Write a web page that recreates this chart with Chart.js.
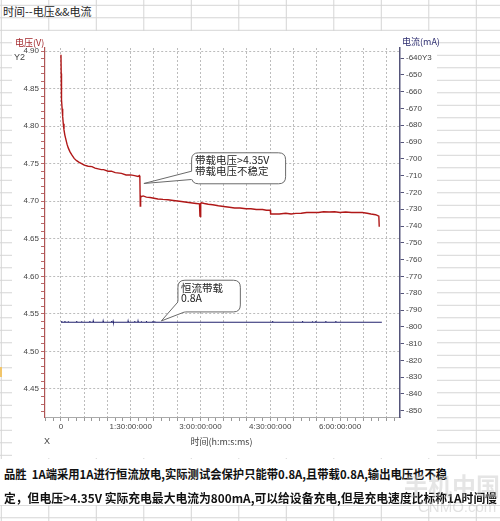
<!DOCTYPE html>
<html><head><meta charset="utf-8">
<script src="https://cdn.jsdelivr.net/npm/chart.js@4.4.1/dist/chart.umd.min.js"></script>
<style>
html,body{margin:0;padding:0;}
body{width:500px;height:521px;position:relative;overflow:hidden;background-color:#fff;
background-image:linear-gradient(to right,#d4d4d4 1px,transparent 1px),linear-gradient(to bottom,#d4d4d4 1px,transparent 1px);
background-size:47.5px 100%,100% 12.5px;background-position:0.8px 0,0 4.8px;}
#sheetTitle{position:absolute;left:3px;top:5px;font:11px "Noto Sans CJK SC";color:#222;line-height:13px;white-space:nowrap;}
#chartBox{position:absolute;left:12px;top:31px;width:425px;height:427px;background:#fff;}
#c{position:absolute;left:0;top:0;z-index:1;}
#note{position:absolute;left:0;top:459px;width:500px;height:46px;background:#fff;z-index:2;}
.nl{position:absolute;left:4px;font:bold 12px "Noto Sans CJK SC";color:#111;white-space:nowrap;line-height:14px;transform-origin:0 50%;}
#wm1{position:absolute;left:404px;top:471px;font:bold 24px "Noto Sans CJK SC";color:rgba(190,190,190,0.4);z-index:3;white-space:nowrap;line-height:28px;}
#wm2{position:absolute;left:418px;top:498px;font:15px "Liberation Sans";color:rgba(190,190,190,0.45);z-index:3;white-space:nowrap;line-height:17px;}
#mark{position:absolute;left:0;top:367px;width:2px;height:10px;background:#f1c56a;}
</style></head>
<body>
<div id="sheetTitle">时间--电压&amp;&amp;电流</div>
<div id="mark"></div>
<div id="chartBox"></div>
<canvas id="c" width="500" height="521"></canvas>
<div id="note">
<div class="nl" id="nl1" style="top:8px" data-w="443">品胜&nbsp; 1A端采用1A进行恒流放电,实际测试会保护只能带0.8A,且带载0.8A,输出电压也不稳</div>
<div class="nl" id="nl2" style="top:32px" data-w="493">定，但电压&gt;4.35V 实际充电最大电流为800mA,可以给设备充电,但是充电速度比标称1A时间慢</div>
</div>
<div id="wm1">手机中国</div>
<div id="wm2">CNMO.com</div>
<script>
// fit note lines to the reference widths
document.querySelectorAll('.nl').forEach(el=>{
  const w = el.getBoundingClientRect().width, target = +el.dataset.w;
  if (w > 0) el.style.transform = 'scaleX(' + (target / w) + ')';
});

// ---- data (time in minutes) ----
const voltTimeMin = [0,0.3,0.5,0.9,1.5,2.2,3.0,3.9,5.0,6.4,7.8,9.4,11.5,13.8,17,20.2,23,26.6,30,35.1,40,44,48,52,55,60.8,65,70,78,84,90,95,99.4,101.2,101.8,102.3,102.8,103.7,106,110.2,115,120,125,131.6,138,145,153,160,167,174.4,178.7,179.3,179.8,180.3,181,185,190,195.8,203,210,217.3,224,231,238.7,245,252,260.1,265,270,270.5,275,281.6,290,297,303,310,317,324.4,332,339,345.9,353,360,367.3,375,382,388.7,395,400,405.9,408,410.1,410.6];
const voltValues = [4.895,4.870,4.855,4.835,4.823,4.813,4.803,4.795,4.788,4.782,4.776,4.771,4.766,4.762,4.757,4.754,4.752,4.750,4.748,4.7466,4.746,4.744,4.743,4.742,4.742,4.740,4.740,4.738,4.737,4.735,4.735,4.734,4.733,4.734,4.731,4.6935,4.707,4.706,4.707,4.7055,4.705,4.704,4.703,4.7024,4.702,4.701,4.700,4.699,4.698,4.697,4.6965,4.680,4.6795,4.697,4.698,4.697,4.696,4.6953,4.694,4.693,4.692,4.691,4.691,4.690,4.690,4.689,4.689,4.688,4.688,4.683,4.683,4.683,4.684,4.683,4.6838,4.684,4.685,4.6851,4.685,4.686,4.6856,4.686,4.685,4.6856,4.685,4.685,4.685,4.684,4.683,4.682,4.681,4.680,4.666];

const currTimeMin = [0,
 0.6,0.9,1.2, 4.8,5.1,5.4, 9.1,9.4,9.7, 19.9,20.2,20.5, 26.3,26.6,26.9, 37,37.3,37.6,
 41.3,41.6,41.9, 54.1,54.4,54.7, 64.9,65.2,65.5, 67,67.3,67.6, 86.3,86.6,86.9, 94.8,95.1,95.4,
 99.1,99.4,99.7, 103.4,103.7,104, 109.9,110.2,110.5, 118.4,118.7,119, 120.6,120.9,121.2,
 272.7,273,273.3, 311.3,311.6,311.9, 324.1,324.4,324.7, 328.4,328.7,329, 341.3,341.6,341.9,
 354.2,354.5,354.8, 414];
const currValues = [-797.3,
 -797.3,-796.6,-797.3, -797.3,-796.6,-797.3, -797.3,-796.7,-797.3, -797.3,-796.6,-797.3, -797.3,-796.7,-797.3, -797.3,-796.6,-797.3,
 -797.3,-796.6,-797.3, -797.3,-796.6,-797.3, -797.3,-796.6,-797.3, -797.3,-796.7,-797.3, -797.3,-796.6,-797.3, -797.3,-796.6,-797.3,
 -797.3,-796.6,-797.3, -797.3,-796.7,-797.3, -797.3,-796.6,-797.3, -797.3,-796.6,-797.3, -797.3,-796.7,-797.3,
 -797.3,-796.6,-797.3, -797.3,-796.6,-797.3, -797.3,-796.7,-797.3, -797.3,-796.6,-797.3, -797.3,-796.6,-797.3,
 -797.3,-796.6,-797.3, -797.3];

// ---- ticks ----
const xLabelMinutes = [0, 90, 180, 270, 360];
const xTickLabels = ['0','1:30:00:000','3:00:00:000','4:30:00:000','6:00:00:000'];
const xGridMinutes = [0,30,60,90,120,150,180,210,240,270,300,330,360,390,420];
const xMinorMinutes = [-20,-10,0,10,20,30,40,50,60,70,80,90,100,110,120,130,140,150,160,170,180,190,200,210,220,230,240,250,260,270,280,290,300,310,320,330,340,350,360,370,380,390,400,410,420,430];
const yLeftLabelValues = [4.45,4.50,4.55,4.60,4.65,4.70,4.75,4.80,4.85,4.90];
const yLeftLabels = ['4.45','4.50','4.55','4.60','4.65','4.70','4.75','4.80','4.85','4.90'];
const yLeftMinor = [4.42,4.43,4.44,4.45,4.46,4.47,4.48,4.49,4.50,4.51,4.52,4.53,4.54,4.55,4.56,4.57,4.58,4.59,4.60,4.61,4.62,4.63,4.64,4.65,4.66,4.67,4.68,4.69,4.70,4.71,4.72,4.73,4.74,4.75,4.76,4.77,4.78,4.79,4.80,4.81,4.82,4.83,4.84,4.85,4.86,4.87,4.88,4.89,4.90];
const yRightValues = [-850,-840,-830,-820,-810,-800,-790,-780,-770,-760,-750,-740,-730,-720,-710,-700,-690,-680,-670,-660,-650,-640];
const yRightLabels = ['-850','-840','-830','-820','-810','-800','-790','-780','-770','-760','-750','-740','-730','-720','-710','-700','-690','-680','-670','-660','-650','-640Y3'];

// ---- annotation anchors (data units) ----
const callout1Tip = {t:107, v:4.7236};
const callout1Lines = ['带载电压>4.35V','带载电压不稳定'];
const callout2Tip = {t:129.5, v:-796.5};
const callout2Lines = ['恒流带载','0.8A'];

const voltData = voltTimeMin.map((t,i)=>({x:t,y:voltValues[i]}));
const currData = currTimeMin.map((t,i)=>({x:t,y:currValues[i]}));

Chart.defaults.font.family = '"Liberation Sans", Arial, sans-serif';
Chart.defaults.font.size = 8;
Chart.defaults.color = '#444';

function near(arr, v){ return arr.findIndex(a=>Math.abs(a-v)<1e-6); }
function tickVal(c){ return (c && c.tick) ? c.tick.value : NaN; }

function roundRectPath(ctx,x,y,w,h,r){
  ctx.beginPath();
  ctx.moveTo(x+r,y); ctx.lineTo(x+w-r,y); ctx.quadraticCurveTo(x+w,y,x+w,y+r);
  ctx.lineTo(x+w,y+h-r); ctx.quadraticCurveTo(x+w,y+h,x+w-r,y+h);
  ctx.lineTo(x+r,y+h); ctx.quadraticCurveTo(x,y+h,x,y+h-r);
  ctx.lineTo(x,y+r); ctx.quadraticCurveTo(x,y,x+r,y); ctx.closePath();
}
function drawCallout(ctx, tipX, tipY, box, p1, p2, inward, lines, tx, ty, lh){
  ctx.save();
  ctx.lineWidth = 1; ctx.strokeStyle = '#6a6a6a'; ctx.fillStyle = '#fff';
  roundRectPath(ctx, box.x, box.y, box.w, box.h, 7);
  ctx.fill(); ctx.stroke();
  ctx.beginPath();
  ctx.moveTo(p1.x+inward.x, p1.y+inward.y); ctx.lineTo(p1.x,p1.y); ctx.lineTo(tipX,tipY);
  ctx.lineTo(p2.x,p2.y); ctx.lineTo(p2.x+inward.x, p2.y+inward.y); ctx.closePath();
  ctx.fill();
  ctx.beginPath(); ctx.moveTo(p1.x,p1.y); ctx.lineTo(tipX,tipY); ctx.lineTo(p2.x,p2.y); ctx.stroke();
  ctx.fillStyle = '#222'; ctx.font = '10.5px "Noto Sans CJK SC"';
  ctx.textAlign='left'; ctx.textBaseline='middle';
  lines.forEach((s,i)=>ctx.fillText(s, tx, ty + i*lh));
  ctx.restore();
}

const overlay = {
  id:'overlay',
  afterDraw(chart){
    const {ctx, chartArea:a, scales} = chart;
    const x = scales.x, y = scales.y, y2 = scales.y2;
    ctx.save();
    ctx.textBaseline = 'middle';
    ctx.font = '9px "Noto Sans CJK SC"';
    ctx.textAlign = 'left';
    ctx.fillStyle = '#a3282c';
    ctx.fillText('电压(V)', a.left-30, a.top-5.5);
    ctx.fillStyle = '#2b2b6e';
    ctx.fillText('电流(mA)', a.right+2, a.top-6);
    ctx.fillStyle = '#444';
    ctx.font = '9px "Liberation Sans"';
    ctx.fillText('Y2', a.left-31, a.top+10);
    ctx.textAlign = 'center';
    ctx.fillText('X', a.left+2, a.bottom+25);
    ctx.font = '9px "Noto Sans CJK SC"';
    ctx.fillText('时间(h:m:s:ms)', (a.left+a.right)/2-1, a.bottom+25);
    ctx.restore();

    const t1x = x.getPixelForValue(callout1Tip.t), t1y = y.getPixelForValue(callout1Tip.v);
    const b1 = {x:t1x+47.7, y:t1y-30.7, w:94, h:31};
    drawCallout(ctx, t1x, t1y, b1, {x:b1.x, y:t1y-12.3}, {x:b1.x, y:t1y-4}, {x:2, y:0},
      callout1Lines, b1.x+3.5, b1.y+7, 11.7);
    const t2x = x.getPixelForValue(callout2Tip.t), t2y = y2.getPixelForValue(callout2Tip.v);
    const b2 = {x:t2x+16.6, y:t2y-40.7, w:62.4, h:31.7};
    drawCallout(ctx, t2x, t2y, b2, {x:b2.x, y:b2.y+21.7}, {x:b2.x+6.7, y:b2.y+b2.h}, {x:2, y:-2},
      callout2Lines, b2.x+3, b2.y+7.5, 10);
  }
};

new Chart(document.getElementById('c'), {
  type:'line',
  data:{datasets:[
    {label:'电压', data:voltData, yAxisID:'y', borderColor:'#b01818', borderWidth:1.4, pointRadius:0, tension:0},
    {label:'电流', data:currData, yAxisID:'y2', borderColor:'#23236e', borderWidth:1.1, pointRadius:0, tension:0}
  ]},
  options:{
    responsive:false, animation:false, devicePixelRatio:1,
    layout:{padding:{top:48,left:0,right:0,bottom:0}},
    plugins:{legend:{display:false}, tooltip:{enabled:false}},
    scales:{
      x:{type:'linear', position:'bottom', min:-20.6, max:437.4,
        afterBuildTicks:s=>{s.ticks = xMinorMinutes.map(v=>({value:v}));},
        afterFit:s=>{s.height = 104;},
        ticks:{autoSkip:false, maxRotation:0, padding:1, color:'#444',
          callback:(v)=>{const i=near(xLabelMinutes,v); return i>=0?xTickLabels[i]:'';}},
        grid:{color:(c)=> near(xGridMinutes, tickVal(c))>=0 ? '#bcbcbc' : 'rgba(0,0,0,0)',
          tickColor:'#999', tickLength:4, lineWidth:1, borderDash:[2,2]},
        border:{color:'#aaaaaa', width:1, dash:[2,2]}
      },
      y:{type:'linear', position:'left', min:4.4127, max:4.904,
        afterBuildTicks:s=>{s.ticks = yLeftMinor.map(v=>({value:v}));},
        afterFit:s=>{s.width = 45;},
        ticks:{autoSkip:false, padding:2, color:'#444',
          callback:(v)=>{const i=near(yLeftLabelValues,v); return i>=0?yLeftLabels[i]:'';}},
        grid:{color:(c)=> near(yLeftLabelValues, tickVal(c))>=0 ? '#bcbcbc' : 'rgba(0,0,0,0)',
          tickColor:'#b86a6a', tickLength:4, lineWidth:1, borderDash:[2,2]},
        border:{color:'#b05454', width:1.2, dash:[2,2]}
      },
      y2:{type:'linear', position:'right', min:-853.7, max:-634.0,
        afterBuildTicks:s=>{s.ticks = yRightValues.map(v=>({value:v}));},
        afterFit:s=>{s.width = 100;},
        ticks:{autoSkip:false, padding:2, color:'#444',
          callback:(v)=>{const i=near(yRightValues,v); return i>=0?yRightLabels[i]:'';}},
        grid:{drawOnChartArea:false, tickColor:'#55557a', tickLength:4},
        border:{color:'#55557a', width:1.5}
      }
    }
  },
  plugins:[overlay]
});
</script>
</body></html>
